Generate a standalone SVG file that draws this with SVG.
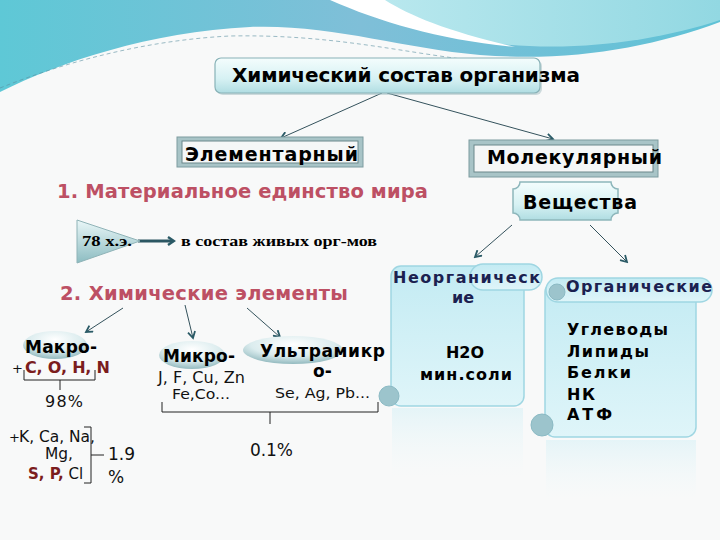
<svg xmlns="http://www.w3.org/2000/svg" width="720" height="540" viewBox="0 0 720 540">
<style>
.b{font-family:"DejaVu Sans","Liberation Sans",sans-serif;font-weight:bold;fill:#000}
.n{font-family:"DejaVu Sans","Liberation Sans",sans-serif;fill:#111}
.t{font-family:"Liberation Serif",serif;font-weight:bold;fill:#000}
.h{font-family:"DejaVu Sans","Liberation Sans",sans-serif;font-weight:bold;fill:#bd5064}
.nv{font-family:"DejaVu Sans","Liberation Sans",sans-serif;font-weight:bold;fill:#1b2150}
.red{fill:#7b1d1d;font-weight:bold}
.con{stroke:#34525c;stroke-width:1;fill:none}
.frame-o{fill:#a8c4c7;stroke:#7d9ca0;stroke-width:1}
.frame-i{fill:#f5f7f7;stroke:#6a878b;stroke-width:1}
.brace{stroke:#222;stroke-width:1;fill:none}
.scroll{fill:url(#gScroll);stroke:#9fd6e2;stroke-width:1.5}
.curl{fill:#9cc4cc;stroke:#8bbac4;stroke-width:1}
</style>
<defs>
<linearGradient id="gTop" x1="0" y1="0" x2="1" y2="0">
<stop offset="0" stop-color="#5ec8d6"/><stop offset="0.5" stop-color="#7fbfd8"/><stop offset="1" stop-color="#5fc2d6"/>
</linearGradient>
<linearGradient id="gLight" x1="0" y1="0" x2="1" y2="0">
<stop offset="0" stop-color="#b9e8ee"/><stop offset="1" stop-color="#92d8e2"/>
</linearGradient>
<linearGradient id="gBox" x1="0" y1="0" x2="0" y2="1">
<stop offset="0" stop-color="#f4fdfd"/><stop offset="0.6" stop-color="#d6f1f3"/><stop offset="1" stop-color="#b0dde2"/>
</linearGradient>
<linearGradient id="gScroll" x1="0" y1="0" x2="0" y2="1">
<stop offset="0" stop-color="#c3ebf3"/><stop offset="1" stop-color="#dff5f9"/>
</linearGradient>
<linearGradient id="gRefl" x1="0" y1="0" x2="0" y2="1">
<stop offset="0" stop-color="#d8f1f6" stop-opacity="0.6"/><stop offset="1" stop-color="#eef8fa" stop-opacity="0"/>
</linearGradient>
<linearGradient id="gTri" x1="0" y1="0" x2="0" y2="1">
<stop offset="0" stop-color="#eaf7f8"/><stop offset="1" stop-color="#8cbcc1"/>
</linearGradient>
<radialGradient id="gEll" cx="0.5" cy="0.3" r="0.7">
<stop offset="0" stop-color="#ffffff"/><stop offset="0.6" stop-color="#dbecee"/><stop offset="1" stop-color="#93babf"/>
</radialGradient>
<marker id="arr" viewBox="0 0 10 10" refX="8" refY="5" markerWidth="9" markerHeight="9" orient="auto" markerUnits="userSpaceOnUse">
<path d="M1,1 L8,5 L1,9" fill="none" stroke="#2a5a66" stroke-width="2"/>
</marker>
<marker id="arrBig" viewBox="0 0 10 10" refX="7" refY="5" markerWidth="10" markerHeight="10" orient="auto" markerUnits="userSpaceOnUse">
<path d="M2,1 L8,5 L2,9" fill="none" stroke="#2a5a66" stroke-width="2.4"/>
</marker>
</defs>

<!-- background -->
<rect width="720" height="540" fill="#f8f9f9"/>
<g id="banner">
<path d="M0,0 H720 V22 C650,48 570,62 480,55 C400,48 330,24 250,27 C150,32 60,62 0,92 Z" fill="url(#gTop)"/>
<path d="M380,0 H720 V20 C660,40 580,52 500,44 C450,38 410,20 380,0 Z" fill="url(#gLight)"/>
<path d="M330,0 C380,22 440,40 515,47 C450,32 410,16 385,0 Z" fill="#ffffff"/>
<path d="M0,88 C70,60 150,40 230,36 C330,34 400,52 470,60" fill="none" stroke="#5a8fa0" stroke-width="1" stroke-dasharray="4,3" opacity="0.6"/>
</g>

<!-- reflections -->
<rect x="392" y="408" width="131" height="70" fill="url(#gRefl)"/>
<rect x="546" y="440" width="150" height="60" fill="url(#gRefl)"/>

<!-- connectors -->
<g id="connectors">
<line class="con" x1="382" y1="93" x2="281" y2="138" marker-end="url(#arr)"/>
<line class="con" x1="387" y1="93" x2="553" y2="139" marker-end="url(#arr)"/>
<line class="con" x1="512" y1="225" x2="475" y2="257" marker-end="url(#arr)"/>
<line class="con" x1="590" y1="225" x2="627" y2="262" marker-end="url(#arr)"/>
<line class="con" x1="123" y1="308" x2="86" y2="332" marker-end="url(#arr)"/>
<line class="con" x1="185" y1="305" x2="193" y2="338" marker-end="url(#arr)"/>
<line class="con" x1="247" y1="308" x2="280" y2="337" marker-end="url(#arr)"/>
<line x1="138" y1="241" x2="173" y2="241" stroke="#2c5763" stroke-width="3" marker-end="url(#arrBig)"/>
</g>

<g id="root">
<rect x="217" y="60" width="325" height="35" rx="6" fill="#9fbcc0" opacity="0.5"/>
<rect x="215" y="58" width="325" height="35" rx="6" fill="url(#gBox)" stroke="#88b2b7" stroke-width="1.2"/>
<text class="b" x="232" y="82" font-size="20" textLength="348" lengthAdjust="spacing">Химический состав организма</text>
</g>

<g id="elementary">
<rect class="frame-o" x="177" y="137" width="186" height="30"/>
<rect class="frame-i" x="182" y="141" width="176" height="22"/>
<text class="b" x="185" y="161" font-size="19" textLength="173" lengthAdjust="spacing">Элементарный</text>
</g>

<g id="molecular">
<rect class="frame-o" x="469" y="140" width="189" height="37"/>
<rect class="frame-i" x="474" y="145" width="179" height="27"/>
<text class="b" x="487" y="164" font-size="19" textLength="175" lengthAdjust="spacing">Молекулярный</text>
</g>

<g id="substances">
<path d="M520,182 H611 A7,7 0 0 0 618,189 V213 A7,7 0 0 0 611,220 H520 A7,7 0 0 0 513,213 V189 A7,7 0 0 0 520,182 Z" fill="url(#gBox)" stroke="#8db6bb" stroke-width="1.5"/>
<text class="b" x="523" y="209" font-size="19" textLength="114" lengthAdjust="spacing">Вещества</text>
</g>

<g id="heading1">
<text class="h" x="57" y="198" font-size="19.5" textLength="371" lengthAdjust="spacing">1. Материальное единство мира</text>
</g>

<g id="elements78">
<polygon points="77,220 77,263 140,241" fill="url(#gTri)" stroke="#8fb3b7" stroke-width="1"/>
<text class="t" x="82" y="246" font-size="15" textLength="50" lengthAdjust="spacingAndGlyphs">78 х.э.</text>
<text class="t" x="181" y="246" font-size="15" textLength="196" lengthAdjust="spacingAndGlyphs">в состав живых орг-мов</text>
</g>

<g id="heading2">
<text class="h" x="60" y="300" font-size="19.5" textLength="288" lengthAdjust="spacing">2. Химические элементы</text>
</g>

<g id="macro">
<ellipse cx="55" cy="345" rx="32" ry="14" fill="url(#gEll)"/>
<text class="b" x="25" y="353" font-size="17" textLength="72" lengthAdjust="spacing">Макро-</text>
<text class="n" x="12" y="373" font-size="13">+</text>
<text class="n red" x="25" y="373" font-size="16" textLength="85" lengthAdjust="spacing">C, O, H, N</text>
<path class="brace" d="M24,370 V380 H95 V370 M60,380 V390"/>
<text class="n" x="45" y="407" font-size="16" textLength="38" lengthAdjust="spacing">98%</text>
</g>

<g id="macro2">
<text class="n" x="9" y="442" font-size="13">+</text>
<text class="n" x="19" y="442" font-size="15" textLength="76" lengthAdjust="spacingAndGlyphs">K, Ca, Na,</text>
<text class="n" x="45" y="459" font-size="15" textLength="28" lengthAdjust="spacingAndGlyphs">Mg,</text>
<text class="n" x="28" y="479" font-size="15"><tspan class="red">S, P,</tspan> Cl</text>
<path class="brace" d="M84,427 H91 V483 H84 M91,455 H104"/>
<text class="n" x="108" y="460" font-size="17">1.9</text>
<text class="n" x="108" y="483" font-size="17">%</text>
</g>

<g id="micro">
<ellipse cx="192" cy="355" rx="33" ry="14" fill="url(#gEll)"/>
<text class="b" x="163" y="362" font-size="17" textLength="72" lengthAdjust="spacing">Микро-</text>
<text class="n" x="158" y="383" font-size="15" textLength="87" lengthAdjust="spacingAndGlyphs">J, F, Cu, Zn</text>
<text class="n" x="172" y="399" font-size="14" textLength="58" lengthAdjust="spacingAndGlyphs">Fe,Co...</text>
</g>

<g id="ultramicro">
<ellipse cx="293" cy="350" rx="50" ry="14" fill="url(#gEll)"/>
<text class="b" x="260" y="357" font-size="17" textLength="125" lengthAdjust="spacing">Ультрамикр</text>
<text class="b" x="313" y="377" font-size="17">о-</text>
<text class="n" x="275" y="398" font-size="14" textLength="95" lengthAdjust="spacingAndGlyphs">Se, Ag, Pb...</text>
</g>

<g id="trace">
<path class="brace" d="M162,402 V412 H378 V402 M270,412 V424"/>
<text class="n" x="250" y="456" font-size="17" textLength="43" lengthAdjust="spacing">0.1%</text>
</g>

<g id="inorganic">
<rect class="scroll" x="391" y="266" width="133" height="140" rx="10"/>
<rect class="scroll" x="470" y="264" width="72" height="26" rx="13"/>
<circle class="curl" cx="389" cy="396" r="10"/>
<text class="nv" x="393" y="283" font-size="16" textLength="147" lengthAdjust="spacing">Неорганическ</text>
<text class="nv" x="463" y="303" font-size="16" text-anchor="middle">ие</text>
<text class="b" x="465" y="358" font-size="16" text-anchor="middle">H2O</text>
<text class="b" x="420" y="380" font-size="16" textLength="92" lengthAdjust="spacing">мин.соли</text>
</g>

<g id="organic">
<rect class="scroll" x="545" y="282" width="151" height="155" rx="10"/>
<rect class="scroll" x="546" y="278" width="166" height="24" rx="12"/>
<circle class="curl" cx="557" cy="292" r="8"/>
<circle class="curl" cx="542" cy="425" r="11"/>
<text class="nv" x="566" y="292" font-size="16" textLength="146" lengthAdjust="spacing">Органические</text>
<text class="b" x="567" y="335" font-size="16" textLength="101" lengthAdjust="spacing">Углеводы</text>
<text class="b" x="567" y="357" font-size="16" textLength="82" lengthAdjust="spacing">Липиды</text>
<text class="b" x="567" y="378" font-size="16" textLength="64" lengthAdjust="spacing">Белки</text>
<text class="b" x="567" y="400" font-size="16" textLength="28" lengthAdjust="spacing">НК</text>
<text class="b" x="567" y="420" font-size="16" textLength="45" lengthAdjust="spacing">АТФ</text>
</g>
</svg>
